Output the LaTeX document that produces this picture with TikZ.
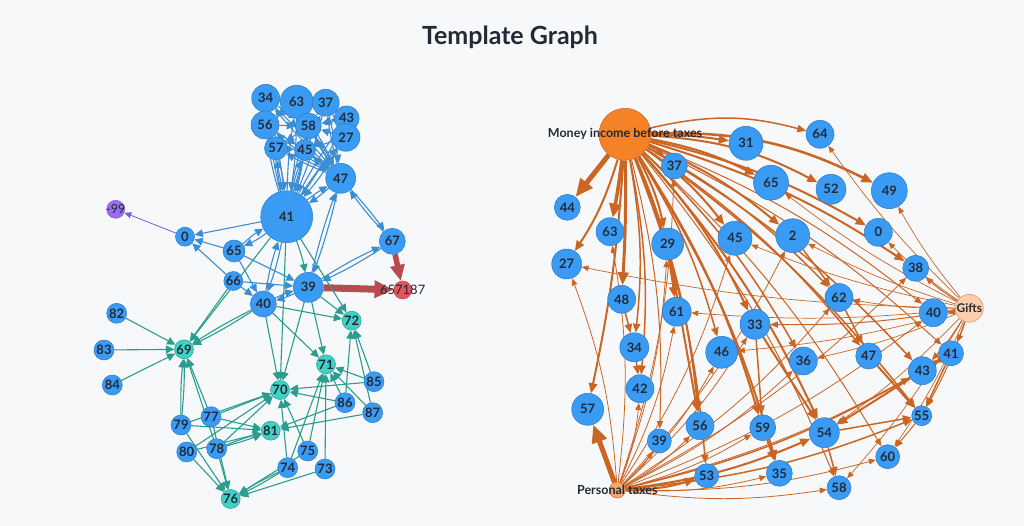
\documentclass[tikz,border=0pt]{standalone}
\usepackage{fontspec}
\setmainfont{Lato}
\usetikzlibrary{arrows.meta}
\pgfdeclarelayer{back}
\pgfdeclarelayer{links}
\pgfsetlayers{back,links,main}
\definecolor{pagebg}{HTML}{F7F8FA}
\definecolor{nodeblue}{HTML}{3A9BF4}
\definecolor{nodeline}{HTML}{2C7AC2}
\definecolor{nodeteal}{HTML}{3ED2C6}
\definecolor{tealline}{HTML}{2A9D8F}
\definecolor{bluelink}{HTML}{3C8ED3}
\definecolor{redlink}{HTML}{B84A50}
\definecolor{rednode}{HTML}{E0565A}
\definecolor{purplenode}{HTML}{9C6CF0}
\definecolor{purplelink}{HTML}{7C5CD8}
\definecolor{orangelink}{HTML}{CB6524}
\definecolor{orangenode}{HTML}{F58226}
\definecolor{taxnode}{HTML}{F9A76A}
\definecolor{giftnode}{HTML}{FFCDAA}
\definecolor{labeltext}{HTML}{232A35}

\begin{document}
\begin{tikzpicture}
		[x=1pt, y=-1pt,
		every node/.style={circle, draw=nodeline, fill=nodeblue, line width=0.5pt, inner sep=0pt, text=labeltext, font=\bfseries\fontsize{13}{13}\selectfont},
		every label/.style={draw=none, fill=none, rectangle, inner sep=1pt, text=labeltext, font=\fontsize{12.5}{12.5}\selectfont},
		sz/.style={minimum size=2*#1},
		tealdot/.style={fill=nodeteal, draw=tealline},
		lw/.style={line width=#1pt},
		bl/.style={color=bluelink, line width=1.1pt, -{Triangle[length=5pt 3, width=4.5pt 3]}},
		tl/.style={color=tealline, line width=1.1pt, -{Triangle[length=5pt 3, width=4.5pt 3]}},
		rd/.style={color=redlink, -{Triangle[length=5pt 2, width=4pt 1.8]}},
		flow/.style={color=orangelink, line width=1.5pt, -{Triangle[length=5pt 2.6, width=4pt 2.2]}},
		money/.style={flow, bend left=8},
		tax/.style={flow, line width=0.8pt, bend right=8},
		gift/.style={flow, line width=0.7pt, bend left=5}]
		\useasboundingbox (0,0) rectangle (1024,526);
		\begin{pgfonlayer}{back}
		\fill[pagebg] (0,0) rectangle (1024,526);
		\end{pgfonlayer}
		
		\node[draw=none, fill=none, rectangle, font=\bfseries\fontsize{25}{25}\selectfont] (title) at (510,37) {Template Graph};
		
		% left graph
		\node[sz=14] (l34) at (265.7,98.3) {34};
		\node[sz=16.5] (l63) at (296.7,101.7) {63};
		\node[sz=13.5] (l37) at (325.7,102.7) {37};
		\node[sz=12.5] (l43) at (346.7,118.3) {43};
		\node[sz=14] (l56) at (265,125) {56};
		\node[sz=13] (l58) at (308.3,126) {58};
		\node[sz=14] (l27) at (346,137.3) {27};
		\node[sz=11.5] (l57) at (276,148.3) {57};
		\node[sz=10.5] (l45) at (305,150) {45};
		\node[sz=15] (l47) at (340.7,178.3) {47};
		\node[sz=26] (l41) at (286.7,216.7) {41};
		\node[sz=9, fill=purplenode, draw=purplelink, label=center:-99] (lm99) at (115.7,209.3) {};
		\node[sz=9.5] (l0) at (185,236.7) {0};
		\node[sz=11] (l65) at (234,251) {65};
		\node[sz=13] (l67) at (392.3,241.3) {67};
		\node[sz=9.5] (l66) at (233.3,281) {66};
		\node[sz=15] (l39) at (308.3,287.3) {39};
		\node[sz=9, fill=rednode, draw=redlink, label={[font=\fontsize{13}{13}\selectfont]center:657187}] (l657187) at (402.7,290) {};
		\node[sz=13] (l40) at (263.3,304) {40};
		\node[sz=10] (l82) at (116.7,313.3) {82};
		\node[sz=10] (l83) at (104,350) {83};
		\node[sz=10] (l84) at (112.3,385) {84};
		\node[sz=9.5, tealdot] (l69) at (184,349.3) {69};
		\node[sz=9.5, tealdot] (l72) at (351.7,320.7) {72};
		\node[sz=9.5, tealdot] (l71) at (326,364.3) {71};
		\node[sz=9.5, tealdot] (l70) at (280,390) {70};
		\node[sz=10] (l85) at (374,381.7) {85};
		\node[sz=10] (l86) at (345,402.7) {86};
		\node[sz=10] (l87) at (372.7,412.7) {87};
		\node[sz=10] (l77) at (211,416.7) {77};
		\node[sz=10] (l79) at (181,425) {79};
		\node[sz=9.5, tealdot] (l81) at (270.7,430.7) {81};
		\node[sz=10] (l80) at (186.7,452) {80};
		\node[sz=10] (l78) at (216.7,448.7) {78};
		\node[sz=10] (l75) at (307.7,451) {75};
		\node[sz=10] (l74) at (287.7,467.7) {74};
		\node[sz=10] (l73) at (325,469) {73};
		\node[sz=9.5, tealdot] (l76) at (230.7,499) {76};
		
		% right graph
		\node[sz=26, fill=orangenode, draw=orangelink, label={[font=\bfseries\fontsize{12.5}{12.5}\selectfont]center:Money income before taxes}] (rM) at (625,134.3) {};
		\node[sz=17] (r31) at (746,143.3) {31};
		\node[sz=13] (r37) at (674.3,166) {37};
		\node[sz=17.5] (r65) at (771,182.7) {65};
		\node[sz=13] (r44) at (567.3,207.3) {44};
		\node[sz=14] (r63) at (610,231.7) {63};
		\node[sz=16] (r29) at (667.7,244) {29};
		\node[sz=17] (r45) at (735,238.3) {45};
		\node[sz=15] (r27) at (566.7,264) {27};
		\node[sz=14] (r48) at (621.7,299.3) {48};
		\node[sz=14] (r64) at (820,134.3) {64};
		\node[sz=15] (r52) at (831,189.3) {52};
		\node[sz=18] (r49) at (889.3,190.7) {49};
		\node[sz=17] (r2) at (792.7,235.7) {2};
		\node[sz=14] (r0) at (878.3,232.3) {0};
		\node[sz=13] (r38) at (915.7,268.3) {38};
		\node[sz=14] (r62) at (839,297.5) {62};
		\node[sz=14.5] (r61) at (676.7,311.7) {61};
		\node[sz=15] (r33) at (755,324.3) {33};
		\node[sz=14.5] (r34) at (634.3,347.3) {34};
		\node[sz=16] (r46) at (721.7,352.3) {46};
		\node[sz=14] (r42) at (640,388.7) {42};
		\node[sz=16] (r57) at (587.7,409.3) {57};
		\node[sz=14] (r56) at (700,425.7) {56};
		\node[sz=12] (r39) at (659.3,441) {39};
		\node[sz=13] (r59) at (762.7,427.7) {59};
		\node[sz=12] (r53) at (706.7,475.7) {53};
		\node[sz=8, fill=taxnode, draw=orangelink, label={[font=\bfseries\fontsize{12.5}{12.5}\selectfont]center:Personal taxes}] (rP) at (617.3,490) {};
		\node[sz=14, fill=giftnode, draw=orangelink!70, label={[font=\bfseries\fontsize{12}{12}\selectfont]center:Gifts}] (rG) at (969.3,308.3) {};
		\node[sz=14] (r40) at (933.3,312.7) {40};
		\node[sz=13] (r47) at (868.7,356) {47};
		\node[sz=14] (r36) at (803.3,361) {36};
		\node[sz=12.5] (r41) at (951,353.3) {41};
		\node[sz=14] (r43) at (922.3,370.7) {43};
		\node[sz=10] (r55) at (921.7,415.7) {55};
		\node[sz=15] (r54) at (824.3,432.7) {54};
		\node[sz=12] (r60) at (887.7,456.7) {60};
		\node[sz=13] (r35) at (779.3,473.3) {35};
		\node[sz=12] (r58) at (839,487.7) {58};
		
		\begin{pgfonlayer}{links}
		% left graph links
		\foreach \c in {l34,l63,l37,l43,l56,l58,l27,l57,l45}
			\path[bl] (\c) edge[bend left=4] (l41) (l41) edge[bend left=4] (\c);
		\foreach \c in {l34,l63,l37,l56,l58,l57,l45}
			\path[bl] (\c) edge[bend left=3] (l47) (l47) edge[bend left=3] (\c);
		\path[bl] (l56) edge (l58) edge (l45) (l34) edge (l58) (l63) edge (l58) edge (l56)
			(l37) edge (l58) edge (l27) (l43) edge (l58) edge (l27) (l27) edge (l58) edge (l45)
			(l57) edge (l45) (l58) edge (l57);
		\path[bl] (l41) edge (l0) edge[bend left=6] (l65) edge[bend left=4] (l40) edge[bend left=4] (l47);
		\path[bl] (l65) edge (l0) edge[bend left=6] (l41) edge (l39) edge (l40);
		\path[bl] (l66) edge (l0) edge (l40) edge (l39);
		\path[bl] (l40) edge[bend left=4] (l41) edge[bend left=6] (l39);
		\path[bl] (l39) edge[bend left=4] (l40) edge[bend left=3] (l47) edge[bend left=4] (l67);
		\path[bl] (l47) edge[bend left=4] (l41) edge[bend left=3] (l39) edge[bend left=3] (l67);
		\path[bl] (l67) edge[bend left=4] (l39) edge[bend left=3] (l47);
		\path[color=purplelink, line width=0.8pt, -{Triangle[length=7pt, width=6pt]}] (l0) edge (lm99);
		\path[rd, line width=7pt] (l39) edge (l657187);
		\path[rd, line width=5.5pt] (l67) edge (l657187);
		
		\path[tl] (l41) edge (l69) edge (l70) edge (l72) edge[bend left=5] (l39);
		\path[tl] (l66) edge (l69);
		\path[tl] (l40) edge[bend left=3] (l69) edge[bend right=3] (l69) edge (l70) edge (l71) edge (l72);
		\path[tl] (l39) edge (l70) edge (l71) edge (l72);
		\path[tl] (l85) edge (l72) edge (l71) edge (l70);
		\path[tl] (l86) edge (l72) edge (l71) edge (l70) edge (l81);
		\path[tl] (l87) edge (l72) edge (l71) edge (l81);
		\path[tl] (l74) edge (l71) edge (l70) edge[bend left=3] (l76) edge[bend right=3] (l76);
		\path[tl] (l75) edge (l71) edge (l70) edge (l76);
		\path[tl] (l73) edge (l71) edge (l76);
		\path[tl] (l77) edge (l70) edge (l81) edge (l69) edge (l76);
		\path[tl] (l79) edge (l70) edge (l81) edge[bend left=3] (l69) edge[bend right=3] (l69) edge (l76);
		\path[tl] (l80) edge (l70) edge (l81) edge (l76);
		\path[tl] (l78) edge (l70) edge[bend left=3] (l81) edge[bend right=3] (l81) edge (l69) edge (l76);
		\path[tl] (l82) edge (l69) (l83) edge (l69) (l84) edge (l69);
		
		% right graph links
		\path[money] (rM)
			edge[lw=5, bend left=0] (r44) edge[lw=3.5, bend left=2] (r63) edge[lw=3, bend left=2] (r48)
			edge[lw=2] (r27) edge[lw=2, bend left=4] (r57) edge (r37) edge[lw=2] (r29)
			edge[lw=2, bend left=4] (r31) edge[bend left=14] (r64) edge[lw=2, bend left=12] (r52)
			edge[lw=2.5, bend left=14] (r49) edge[lw=2] (r65) edge[lw=2] (r2) edge[lw=2] (r45)
			edge[lw=2] (r0) edge[lw=2] (r38) edge (r62) edge (r47) edge (r43) edge (r55)
			edge[lw=2] (r33) edge (r46) edge[lw=2] (r61) edge (r34) edge (r42) edge[lw=2] (r56)
			edge[lw=2] (r59) edge[lw=2] (r54) edge[lw=2] (r35) edge[lw=1] (r60) edge (r36)
			edge[lw=1] (r39) edge (r53) edge[lw=1] (r58) edge[lw=1] (r41) edge[lw=1] (r40);
		\path[tax] (rP)
			edge[lw=5, bend right=0] (r57) edge (r63) edge (r37) edge (r27) edge (r61) edge (r39)
			edge (r56) edge[lw=2] (r53) edge (r46) edge (r33) edge (r36) edge (r62) edge (r2)
			edge (r45) edge[lw=2] (r54) edge[lw=1.5] (r55) edge (r60) edge (r58) edge (r40)
			edge[lw=1.5] (r43) edge (r41) edge (r38) edge (r35) edge (r59) edge (r29) edge (r42);
		\path[gift] (rG)
			edge (r64) edge (r49) edge[lw=1] (r38) edge (r0) edge (r2) edge (r62) edge (r65)
			edge (r45) edge[lw=1] (r33) edge (r61) edge (r27) edge (r36) edge[lw=1] (r40)
			edge[lw=1] (r41) edge[lw=1] (r43) edge[lw=1] (r55) edge (r60) edge (r58) edge (r54) edge (r46);
		\path[flow] (r29) edge (r61) edge[lw=2] (r56) (r48) edge (r34) (r34) edge (r42)
			(r62) edge (r47) (r47) edge[lw=2] (r55) (r33) edge[lw=2] (r54) edge (r59)
			(r59) edge[lw=2] (r35) (r43) edge[lw=2] (r54) (r54) edge (r58) edge (r55)
			(r41) edge (r43) edge (r55) (r55) edge[lw=1] (r60) (r2) edge (r62);
		\end{pgfonlayer}
		\end{tikzpicture}
\end{document}
